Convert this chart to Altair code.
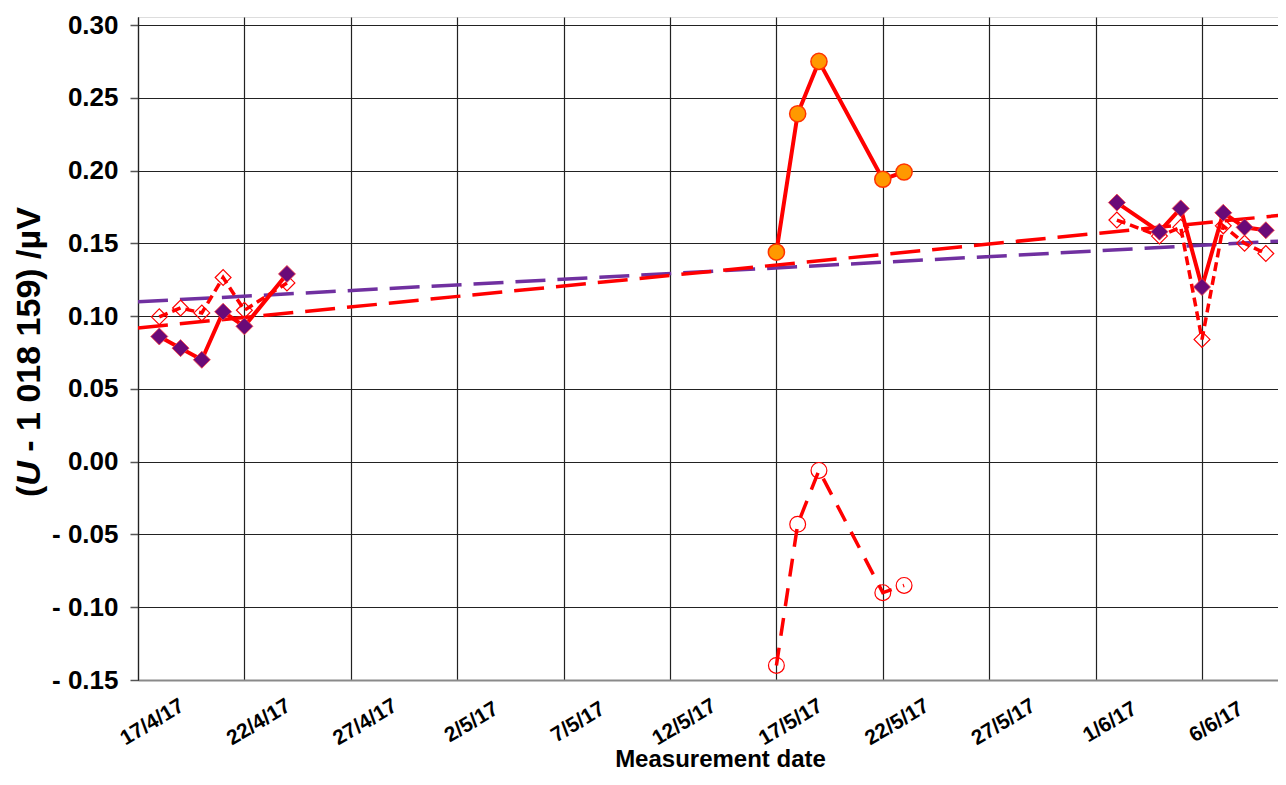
import altair as alt
import pandas as pd

# ---------------- data ----------------
diam_dates = ["2017-04-18", "2017-04-19", "2017-04-20", "2017-04-21", "2017-04-22", "2017-04-24",
              "2017-06-02", "2017-06-04", "2017-06-05", "2017-06-06", "2017-06-07", "2017-06-08", "2017-06-09"]
diam_filled = [0.086, 0.078, 0.070, 0.103, 0.093, 0.129,
               0.178, 0.158, 0.174, 0.120, 0.171, 0.161, 0.159]
diam_open = [0.0995, 0.1056, 0.1022, 0.1265, 0.104, 0.1228,
             0.166, 0.155, 0.161, 0.084, 0.162, 0.150, 0.143]
diam_group = ["Apr"] * 6 + ["Jun"] * 7

circ_dates = ["2017-05-17", "2017-05-18", "2017-05-19", "2017-05-22", "2017-05-23"]
circ_filled = [0.144, 0.239, 0.275, 0.194, 0.199]
circ_open = [-0.140, -0.043, -0.006, -0.090, -0.085]

trend_dates = ["2017-04-17", "2017-06-10"]
trend_purple = [0.1098, 0.1518]
trend_red = [0.0919, 0.1697]

tick_dates = ["2017-04-17", "2017-04-22", "2017-04-27", "2017-05-02", "2017-05-07", "2017-05-12",
              "2017-05-17", "2017-05-22", "2017-05-27", "2017-06-01", "2017-06-06"]
y_ticks = [-0.15, -0.10, -0.05, 0.0, 0.05, 0.10, 0.15, 0.20, 0.25, 0.30]

# ---------------- tables ----------------
df_d = pd.DataFrame({"date": diam_dates, "filled": diam_filled, "open": diam_open, "group": diam_group})
df_c = pd.DataFrame({"date": circ_dates, "filled": circ_filled, "open": circ_open})
df_t = pd.DataFrame({
    "date": trend_dates * 2,
    "value": trend_purple + trend_red,
    "series": ["purple"] * 2 + ["red"] * 2,
})


def ms(s):
    return int(pd.Timestamp(s, tz="UTC").value // 10**6)


DAY = 86400000
PLOT_W = 1140
x_dom = [ms("2017-04-17"), ms("2017-04-17") + int(PLOT_W / 21.28 * DAY)]
x_vals = [ms(d) for d in tick_dates]

FONT = "Liberation Sans"
RED = "#FF0000"

xs = alt.Scale(type="utc", domain=x_dom)
ys = alt.Scale(domain=[-0.15, 0.3055], nice=False, zero=False)

x_axis = alt.Axis(
    values=x_vals,
    labelExpr="utcFormat(datum.value, '%-d/%-m/%y')",
    labelAngle=-31, labelAlign="center", labelBaseline="middle",
    labelPadding=42, labelOffset=14,
    ticks=False, tickSize=0,
    labelFont=FONT, labelFontSize=21, labelFontWeight="bold", labelColor="black",
    labelFlush=False, labelOverlap=False,
    grid=True, gridColor="#222222", gridWidth=1.2,
    domain=True, domainColor="#8a8a8a", domainWidth=2,
    title="Measurement date", titleFont=FONT, titleFontSize=24, titleFontWeight="bold",
    titleColor="black", titleBaseline="middle", titleY=79, titleX=582,
)
y_axis = alt.Axis(
    values=y_ticks,
    labelExpr="datum.value < -0.0001 ? '- ' + format(-datum.value, '.2f') : format(datum.value, '.2f')",
    labelFont=FONT, labelFontSize=26, labelFontWeight="bold", labelColor="black",
    labelPadding=12, labelBaseline="middle",
    ticks=True, tickSize=8, tickColor="#555555", tickWidth=1.5,
    grid=True, gridColor="#222222", gridWidth=1.2,
    domain=True, domainColor="#222222", domainWidth=1.2,
    title=None,
)

X = alt.X("date:T", scale=xs, axis=x_axis)

trend = alt.Chart(df_t).mark_line(strokeWidth=3.5, strokeDash=[30, 12], clip=True).encode(
    x=X,
    y=alt.Y("value:Q", scale=ys, axis=y_axis),
    color=alt.Color("series:N", scale=alt.Scale(domain=["purple", "red"], range=["#7030A0", RED]), legend=None),
    detail="series:N",
)

open_d_line = alt.Chart(df_d).mark_line(color=RED, strokeWidth=3.5, strokeDash=[9, 5]).encode(
    x="date:T", y="open:Q", detail="group:N")
open_d_pts = alt.Chart(df_d).mark_point(shape="diamond", filled=False, stroke=RED, strokeWidth=1.2,
                                        size=250, opacity=1).encode(x="date:T", y="open:Q")

open_c_line = alt.Chart(df_c).mark_line(color=RED, strokeWidth=3.5, strokeDash=[18, 12]).encode(
    x="date:T", y="open:Q")
open_c_pts = alt.Chart(df_c).mark_point(shape="circle", filled=False, stroke=RED, strokeWidth=1.2,
                                        size=250, opacity=1).encode(x="date:T", y="open:Q")

fill_d_line = alt.Chart(df_d).mark_line(color=RED, strokeWidth=4).encode(
    x="date:T", y="filled:Q", detail="group:N")
fill_d_pts = alt.Chart(df_d).mark_point(shape="diamond", filled=True, fill="#6A0A78", stroke="#FF4040",
                                        strokeWidth=0.8, size=290, opacity=1).encode(x="date:T", y="filled:Q")

fill_c_line = alt.Chart(df_c).mark_line(color=RED, strokeWidth=4).encode(
    x="date:T", y="filled:Q")
fill_c_pts = alt.Chart(df_c).mark_point(shape="circle", filled=True, fill="#FF9900", stroke="#FF3300",
                                        strokeWidth=1.5, size=260, opacity=1).encode(x="date:T", y="filled:Q")

# y-axis title with italic U, built as three rotated text pieces
TS = 34
title_df1 = pd.DataFrame({"t": ["("]})
title_df2 = pd.DataFrame({"t": ["U"]})
title_df3 = pd.DataFrame({"t": ["- 1 018 159) /µV"]})
y0 = 480
w1 = 0.333 * TS
w2 = 0.722 * TS
w_sp = 0.278 * TS
t1 = alt.Chart(title_df1).mark_text(angle=270, align="left", baseline="alphabetic", font=FONT,
                                    fontSize=TS, fontWeight="bold", color="black").encode(
    x=alt.value(-98), y=alt.value(y0), text="t:N")
t2 = alt.Chart(title_df2).mark_text(angle=270, align="left", baseline="alphabetic", font=FONT,
                                    fontSize=TS, fontWeight="bold", fontStyle="italic", color="black").encode(
    x=alt.value(-98), y=alt.value(y0 - w1), text="t:N")
t3 = alt.Chart(title_df3).mark_text(angle=270, align="left", baseline="alphabetic", font=FONT,
                                    fontSize=TS, fontWeight="bold", color="black").encode(
    x=alt.value(-98), y=alt.value(y0 - w1 - w2 - w_sp), text="t:N")

chart = alt.layer(
    trend, open_d_line, open_d_pts, open_c_line, open_c_pts,
    fill_d_line, fill_c_line, fill_d_pts, fill_c_pts, t1, t2, t3,
).properties(
    width=PLOT_W, height=663,
    autosize=alt.AutoSizeParams(type="none"),
    padding={"left": 130, "top": 9, "right": 0, "bottom": 92},
).configure_view(
    stroke="#333333", strokeWidth=1.2,
).configure(background="white")

chart.save("out.html", embed_options={"renderer": "svg", "actions": False})
